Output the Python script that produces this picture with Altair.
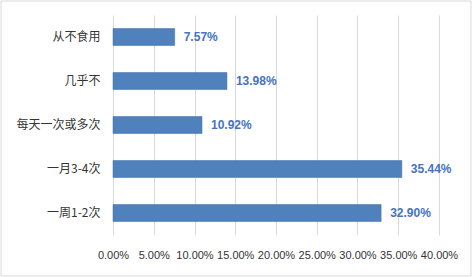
import altair as alt
import pandas as pd

categories = ["从不食用", "几乎不", "每天一次或多次", "一月3-4次", "一周1-2次"]
values = [0.0757, 0.1398, 0.1092, 0.3544, 0.3290]
x_ticks = [0.0, 0.05, 0.10, 0.15, 0.20, 0.25, 0.30, 0.35, 0.40]

df = pd.DataFrame({"cat": categories, "val": values})

base = alt.Chart(df)

y_enc = alt.Y(
    "cat:N",
    sort=categories,
    title=None,
    scale=alt.Scale(paddingInner=0.614, paddingOuter=0.307),
    axis=alt.Axis(
        ticks=False,
        domain=False,
        grid=False,
        labelPadding=13,
        labelFont="Noto Sans CJK SC",
        labelFontSize=12,
        labelColor="#333333",
        labelLimit=200,
    ),
)

x_enc = alt.X(
    "val:Q",
    title=None,
    scale=alt.Scale(domain=[0, 0.4], nice=False),
    axis=alt.Axis(
        values=x_ticks,
        format=".2%",
        ticks=False,
        domain=False,
        grid=True,
        gridColor="#d9d9d9",
        gridWidth=1,
        labelPadding=14,
        labelOverlap=False,
        labelFlush=False,
        labelFont="Liberation Sans",
        labelFontSize=11,
        labelColor="#333333",
    ),
)

bars = base.mark_bar(color="#4f81bd", stroke="#3f6fa8", strokeWidth=0.5).encode(
    x=x_enc, y=y_enc
)

labels = base.mark_text(
    align="left",
    baseline="middle",
    dx=9,
    font="Liberation Sans",
    fontSize=12,
    fontWeight="bold",
    color="#4472c4",
).encode(
    x=alt.X("val:Q"),
    y=alt.Y("cat:N", sort=categories),
    text=alt.Text("val:Q", format=".2%"),
)

border = alt.Chart(alt.Data(values=[{}])).mark_rect(
    fill=None, stroke="#d9d9d9", strokeWidth=1
).encode(
    x=alt.value(-112), x2=alt.value(358), y=alt.value(-14), y2=alt.value(261)
)

chart = (
    alt.layer(bars, labels, border)
    .properties(
        width=326,
        height=220,
        autosize=alt.AutoSizeParams(type="none"),
        padding={"left": 113, "top": 15, "right": 33, "bottom": 42},
        background="white",
    )
    .configure_view(stroke=None)
)

chart.save("out.html", embed_options={"renderer": "svg", "actions": False})
